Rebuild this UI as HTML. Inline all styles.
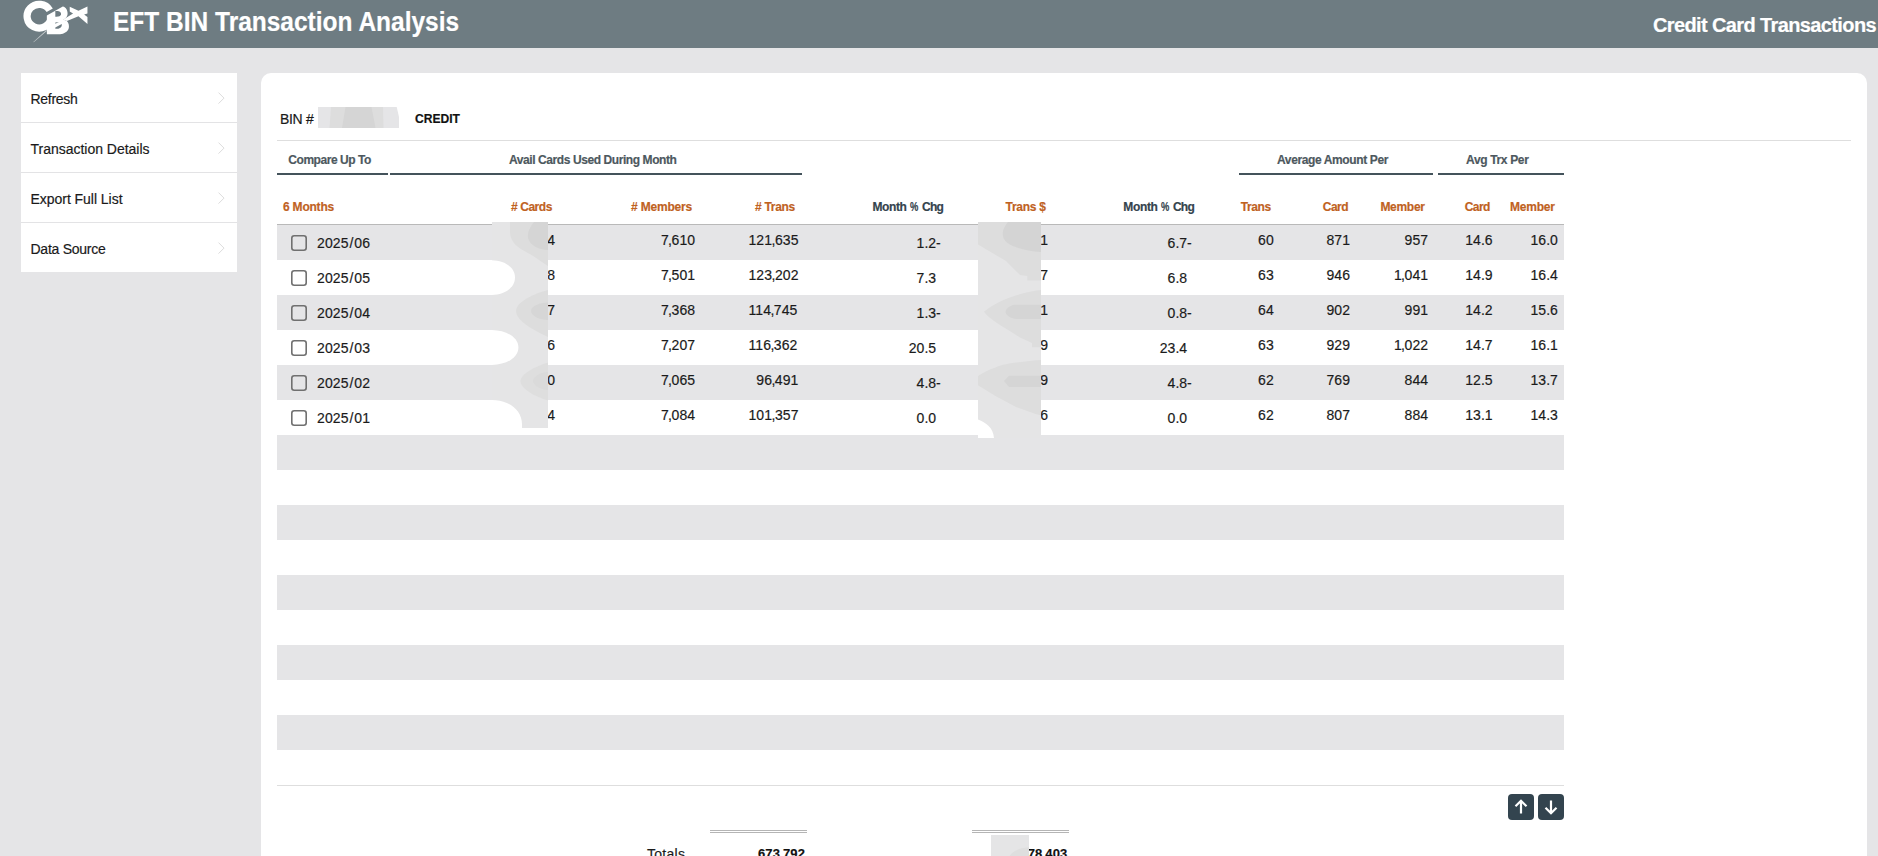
<!DOCTYPE html>
<html><head><meta charset="utf-8"><title>EFT BIN Transaction Analysis</title>
<style>
html,body{margin:0;padding:0;}
body{width:1878px;height:856px;overflow:hidden;background:#e5e5e7;position:relative;font-family:"Liberation Sans",sans-serif;}
.t{position:absolute;white-space:nowrap;line-height:20px;height:20px;}
.t i{font-style:normal;}
.t{-webkit-text-stroke:0.18px currentColor;}
.r{position:absolute;display:block;}
</style></head><body>
<div class="r" style="left:0px;top:0px;width:1878px;height:48px;background:#6e7c82;"></div>
<svg class="r" style="left:16px;top:0px" width="80" height="44" viewBox="0 0 1556 856">
<g fill="#fff">
<path d="M656 200 A236 230 0 1 0 684 355" fill="none" stroke="#fff" stroke-width="140"/>
<path d="M600 300 L910 125 C975 135 1010 210 1003 275 C998 325 965 360 920 380 L990 410 C1030 445 1040 520 1022 565 C990 640 900 668 830 668 L600 668 Z"/>
<path d="M1045 130 L1215 210 L1390 125 L1390 265 L1325 280 L1390 330 L1390 465 L1215 315 L990 410 L920 380 L1110 265 L1045 225 Z"/>
<path d="M585 588 L606 600 L345 824 L337 819 Z" fill-opacity="0.6"/>
</g>
<g fill="#6e7c82">
<path d="M765 215 L815 215 C860 222 882 252 875 283 C866 316 822 330 765 325 Z"/>
<path d="M765 462 L765 440 L835 428 Z"/>
<path d="M765 535 L890 468 C900 520 860 562 800 560 L765 560 Z"/>
</g>
</svg>

<span class="t" style="left:113.20px;top:11.84px;font-size:27px;font-weight:700;color:#fff;letter-spacing:0.000px;transform-origin:0 0;transform:scaleX(0.9070);">EFT BIN Transaction Analysis</span>
<span class="t" style="left:1653.00px;top:15.07px;font-size:20px;font-weight:700;color:#fff;letter-spacing:-0.618px;">Credit Card Transactions</span>
<div class="r" style="left:21px;top:73px;width:216px;height:199px;background:#fff;"></div>
<div class="r" style="left:21px;top:122px;width:216px;height:1px;background:#e3e3e5;"></div>
<span class="t" style="left:30.50px;top:89.15px;font-size:14px;color:#1a1a1a;letter-spacing:-0.289px;">Refresh</span>
<svg class="r" style="left:216px;top:91.9px" width="10" height="14" viewBox="0 0 10 14"><path d="M2.5 0.6 L8 6.1 L2.5 11.6" fill="none" stroke="#dcdcdc" stroke-width="1"/></svg>
<div class="r" style="left:21px;top:172px;width:216px;height:1px;background:#e3e3e5;"></div>
<span class="t" style="left:30.50px;top:139.15px;font-size:14px;color:#1a1a1a;letter-spacing:-0.016px;">Transaction Details</span>
<svg class="r" style="left:216px;top:141.9px" width="10" height="14" viewBox="0 0 10 14"><path d="M2.5 0.6 L8 6.1 L2.5 11.6" fill="none" stroke="#dcdcdc" stroke-width="1"/></svg>
<div class="r" style="left:21px;top:222px;width:216px;height:1px;background:#e3e3e5;"></div>
<span class="t" style="left:30.50px;top:189.15px;font-size:14px;color:#1a1a1a;letter-spacing:-0.037px;">Export Full List</span>
<svg class="r" style="left:216px;top:191.9px" width="10" height="14" viewBox="0 0 10 14"><path d="M2.5 0.6 L8 6.1 L2.5 11.6" fill="none" stroke="#dcdcdc" stroke-width="1"/></svg>
<span class="t" style="left:30.50px;top:239.15px;font-size:14px;color:#1a1a1a;letter-spacing:-0.256px;">Data Source</span>
<svg class="r" style="left:216px;top:241.9px" width="10" height="14" viewBox="0 0 10 14"><path d="M2.5 0.6 L8 6.1 L2.5 11.6" fill="none" stroke="#dcdcdc" stroke-width="1"/></svg>
<div class="r" style="left:261px;top:73px;width:1606px;height:800px;background:#fff;border-radius:10px 10px 0 0;"></div>
<span class="t" style="left:279.90px;top:109.15px;font-size:14px;color:#1a1a1a;letter-spacing:-0.263px;">BIN #</span>
<svg class="r" style="left:318px;top:107px" width="81" height="21" viewBox="318 107 81 21">
<path d="M318 107 L396.7 107 L399 117 L399 128 L318 128 Z" fill="#e5e5e7"/>
<path d="M331 107 L383 107 L383.5 128 L329.5 128 Z" fill="#dddddd"/>
<path d="M345.5 107 L371.5 107 L375.5 128 L342 128 Z" fill="#d5d5d5"/>
</svg>

<span class="t" style="left:414.60px;top:109.00px;font-size:13px;font-weight:700;color:#111;letter-spacing:0.000px;transform-origin:0 0;transform:scaleX(0.9300);">CREDIT</span>
<div class="r" style="left:277px;top:140px;width:1574px;height:1px;background:#dedede;"></div>
<span class="t" style="left:288.30px;top:149.84px;font-size:12px;font-weight:700;color:#4d585e;letter-spacing:-0.457px;">Compare Up To</span>
<div class="r" style="left:277px;top:173px;width:111px;height:2px;background:#44535b;"></div>
<span class="t" style="left:509.00px;top:149.84px;font-size:12px;font-weight:700;color:#4d585e;letter-spacing:-0.416px;">Avail Cards Used During Month</span>
<div class="r" style="left:390px;top:173px;width:412px;height:2px;background:#44535b;"></div>
<span class="t" style="left:1277.00px;top:149.84px;font-size:12px;font-weight:700;color:#4d585e;letter-spacing:-0.378px;">Average Amount Per</span>
<div class="r" style="left:1239px;top:173px;width:194px;height:2px;background:#44535b;"></div>
<span class="t" style="left:1466.00px;top:149.84px;font-size:12px;font-weight:700;color:#4d585e;letter-spacing:-0.341px;">Avg Trx Per</span>
<div class="r" style="left:1438px;top:173px;width:126px;height:2px;background:#44535b;"></div>
<span class="t" style="left:283.00px;top:196.84px;font-size:12px;font-weight:700;color:#c0621f;letter-spacing:-0.208px;">6 Months</span>
<span class="t" style="left:511.00px;top:196.84px;font-size:12px;font-weight:700;color:#c0621f;letter-spacing:-0.432px;"># Cards</span>
<span class="t" style="left:631.00px;top:196.84px;font-size:12px;font-weight:700;color:#c0621f;letter-spacing:-0.188px;"># Members</span>
<span class="t" style="left:755.00px;top:196.84px;font-size:12px;font-weight:700;color:#c0621f;letter-spacing:-0.289px;"># Trans</span>
<span class="t" style="left:872.40px;top:196.84px;font-size:12px;font-weight:700;color:#34434d;letter-spacing:-0.356px;">Month</span>
<span class="t" style="left:910.20px;top:196.84px;font-size:12px;font-weight:700;color:#34434d;letter-spacing:0.000px;transform-origin:0 0;transform:scaleX(0.7779);">%</span>
<span class="t" style="left:922.00px;top:196.84px;font-size:12px;font-weight:700;color:#34434d;letter-spacing:-0.709px;">Chg</span>
<span class="t" style="left:1005.50px;top:196.84px;font-size:12px;font-weight:700;color:#c0621f;letter-spacing:-0.246px;">Trans $</span>
<span class="t" style="left:1123.30px;top:196.84px;font-size:12px;font-weight:700;color:#34434d;letter-spacing:-0.356px;">Month</span>
<span class="t" style="left:1161.10px;top:196.84px;font-size:12px;font-weight:700;color:#34434d;letter-spacing:0.000px;transform-origin:0 0;transform:scaleX(0.7779);">%</span>
<span class="t" style="left:1172.90px;top:196.84px;font-size:12px;font-weight:700;color:#34434d;letter-spacing:-0.709px;">Chg</span>
<span class="t" style="left:1240.70px;top:196.84px;font-size:12px;font-weight:700;color:#c0621f;letter-spacing:-0.403px;">Trans</span>
<span class="t" style="left:1322.80px;top:196.84px;font-size:12px;font-weight:700;color:#c0621f;letter-spacing:-0.535px;">Card</span>
<span class="t" style="left:1380.40px;top:196.84px;font-size:12px;font-weight:700;color:#c0621f;letter-spacing:-0.286px;">Member</span>
<span class="t" style="left:1464.80px;top:196.84px;font-size:12px;font-weight:700;color:#c0621f;letter-spacing:-0.610px;">Card</span>
<span class="t" style="left:1510.00px;top:196.84px;font-size:12px;font-weight:700;color:#c0621f;letter-spacing:-0.236px;">Member</span>
<div class="r" style="left:277px;top:224px;width:1287px;height:1px;background:#b9b9b9;"></div>
<div class="r" style="left:277px;top:225px;width:1287px;height:35px;background:#e5e5e7;"></div>
<div class="r" style="left:277px;top:295px;width:1287px;height:35px;background:#e5e5e7;"></div>
<div class="r" style="left:277px;top:365px;width:1287px;height:35px;background:#e5e5e7;"></div>
<div class="r" style="left:277px;top:435px;width:1287px;height:35px;background:#e5e5e7;"></div>
<div class="r" style="left:277px;top:505px;width:1287px;height:35px;background:#e5e5e7;"></div>
<div class="r" style="left:277px;top:575px;width:1287px;height:35px;background:#e5e5e7;"></div>
<div class="r" style="left:277px;top:645px;width:1287px;height:35px;background:#e5e5e7;"></div>
<div class="r" style="left:277px;top:715px;width:1287px;height:35px;background:#e5e5e7;"></div>
<svg class="r" style="left:290px;top:234px" width="18" height="18" viewBox="0 0 18 18"><rect x="1.8" y="1.8" width="14.4" height="14.4" rx="2.4" fill="none" stroke="#707070" stroke-width="1.6"/></svg>
<span class="t" style="left:317.00px;top:233.15px;font-size:14px;color:#1b1b1b"><i style="letter-spacing:0.075px">2</i><i style="letter-spacing:0.075px">0</i><i style="letter-spacing:0.075px">2</i><i style="letter-spacing:0.075px">5</i><i style="margin-left:0.939px;letter-spacing:0.939px">/</i><i style="letter-spacing:0.075px">0</i><i style="letter-spacing:0.075px">6</i></span>
<span class="t" style="left:547.24px;top:230.15px;font-size:14px;color:#1b1b1b"><i style="letter-spacing:0.075px">4</i></span>
<span class="t" style="left:660.91px;top:230.15px;font-size:14px;color:#1b1b1b"><i style="letter-spacing:0.075px">7</i><i style="margin-left:-0.700px;letter-spacing:-0.446px">,</i><i style="letter-spacing:0.075px">6</i><i style="letter-spacing:0.075px">1</i><i style="letter-spacing:0.075px">0</i></span>
<span class="t" style="left:748.49px;top:230.15px;font-size:14px;color:#1b1b1b"><i style="letter-spacing:0.075px">1</i><i style="letter-spacing:0.075px">2</i><i style="letter-spacing:0.075px">1</i><i style="margin-left:-0.700px;letter-spacing:-0.446px">,</i><i style="letter-spacing:0.075px">6</i><i style="letter-spacing:0.075px">3</i><i style="letter-spacing:0.075px">5</i></span>
<span class="t" style="left:916.59px;top:233.15px;font-size:14px;color:#1b1b1b"><i style="letter-spacing:0.075px">1</i><i style="letter-spacing:-0.198px">.</i><i style="letter-spacing:0.075px">2</i><i style="letter-spacing:-0.798px">-</i></span>
<span class="t" style="left:1040.14px;top:230.15px;font-size:14px;color:#1b1b1b"><i style="letter-spacing:0.075px">1</i></span>
<span class="t" style="left:1167.59px;top:233.15px;font-size:14px;color:#1b1b1b"><i style="letter-spacing:0.075px">6</i><i style="letter-spacing:-0.198px">.</i><i style="letter-spacing:0.075px">7</i><i style="letter-spacing:-0.798px">-</i></span>
<span class="t" style="left:1258.08px;top:230.15px;font-size:14px;color:#1b1b1b"><i style="letter-spacing:0.075px">6</i><i style="letter-spacing:0.075px">0</i></span>
<span class="t" style="left:1326.42px;top:230.15px;font-size:14px;color:#1b1b1b"><i style="letter-spacing:0.075px">8</i><i style="letter-spacing:0.075px">7</i><i style="letter-spacing:0.075px">1</i></span>
<span class="t" style="left:1404.52px;top:230.15px;font-size:14px;color:#1b1b1b"><i style="letter-spacing:0.075px">9</i><i style="letter-spacing:0.075px">5</i><i style="letter-spacing:0.075px">7</i></span>
<span class="t" style="left:1465.23px;top:230.15px;font-size:14px;color:#1b1b1b"><i style="letter-spacing:0.075px">1</i><i style="letter-spacing:0.075px">4</i><i style="letter-spacing:-0.198px">.</i><i style="letter-spacing:0.075px">6</i></span>
<span class="t" style="left:1530.43px;top:230.15px;font-size:14px;color:#1b1b1b"><i style="letter-spacing:0.075px">1</i><i style="letter-spacing:0.075px">6</i><i style="letter-spacing:-0.198px">.</i><i style="letter-spacing:0.075px">0</i></span>
<svg class="r" style="left:290px;top:269px" width="18" height="18" viewBox="0 0 18 18"><rect x="1.8" y="1.8" width="14.4" height="14.4" rx="2.4" fill="none" stroke="#707070" stroke-width="1.6"/></svg>
<span class="t" style="left:317.00px;top:268.15px;font-size:14px;color:#1b1b1b"><i style="letter-spacing:0.075px">2</i><i style="letter-spacing:0.075px">0</i><i style="letter-spacing:0.075px">2</i><i style="letter-spacing:0.075px">5</i><i style="margin-left:0.939px;letter-spacing:0.939px">/</i><i style="letter-spacing:0.075px">0</i><i style="letter-spacing:0.075px">5</i></span>
<span class="t" style="left:547.24px;top:265.15px;font-size:14px;color:#1b1b1b"><i style="letter-spacing:0.075px">8</i></span>
<span class="t" style="left:660.91px;top:265.15px;font-size:14px;color:#1b1b1b"><i style="letter-spacing:0.075px">7</i><i style="margin-left:-0.700px;letter-spacing:-0.446px">,</i><i style="letter-spacing:0.075px">5</i><i style="letter-spacing:0.075px">0</i><i style="letter-spacing:0.075px">1</i></span>
<span class="t" style="left:748.49px;top:265.15px;font-size:14px;color:#1b1b1b"><i style="letter-spacing:0.075px">1</i><i style="letter-spacing:0.075px">2</i><i style="letter-spacing:0.075px">3</i><i style="margin-left:-0.700px;letter-spacing:-0.446px">,</i><i style="letter-spacing:0.075px">2</i><i style="letter-spacing:0.075px">0</i><i style="letter-spacing:0.075px">2</i></span>
<span class="t" style="left:916.59px;top:268.15px;font-size:14px;color:#1b1b1b"><i style="letter-spacing:0.075px">7</i><i style="letter-spacing:-0.198px">.</i><i style="letter-spacing:0.075px">3</i></span>
<span class="t" style="left:1040.14px;top:265.15px;font-size:14px;color:#1b1b1b"><i style="letter-spacing:0.075px">7</i></span>
<span class="t" style="left:1167.59px;top:268.15px;font-size:14px;color:#1b1b1b"><i style="letter-spacing:0.075px">6</i><i style="letter-spacing:-0.198px">.</i><i style="letter-spacing:0.075px">8</i></span>
<span class="t" style="left:1258.08px;top:265.15px;font-size:14px;color:#1b1b1b"><i style="letter-spacing:0.075px">6</i><i style="letter-spacing:0.075px">3</i></span>
<span class="t" style="left:1326.42px;top:265.15px;font-size:14px;color:#1b1b1b"><i style="letter-spacing:0.075px">9</i><i style="letter-spacing:0.075px">4</i><i style="letter-spacing:0.075px">6</i></span>
<span class="t" style="left:1393.91px;top:265.15px;font-size:14px;color:#1b1b1b"><i style="letter-spacing:0.075px">1</i><i style="margin-left:-0.700px;letter-spacing:-0.446px">,</i><i style="letter-spacing:0.075px">0</i><i style="letter-spacing:0.075px">4</i><i style="letter-spacing:0.075px">1</i></span>
<span class="t" style="left:1465.23px;top:265.15px;font-size:14px;color:#1b1b1b"><i style="letter-spacing:0.075px">1</i><i style="letter-spacing:0.075px">4</i><i style="letter-spacing:-0.198px">.</i><i style="letter-spacing:0.075px">9</i></span>
<span class="t" style="left:1530.43px;top:265.15px;font-size:14px;color:#1b1b1b"><i style="letter-spacing:0.075px">1</i><i style="letter-spacing:0.075px">6</i><i style="letter-spacing:-0.198px">.</i><i style="letter-spacing:0.075px">4</i></span>
<svg class="r" style="left:290px;top:304px" width="18" height="18" viewBox="0 0 18 18"><rect x="1.8" y="1.8" width="14.4" height="14.4" rx="2.4" fill="none" stroke="#707070" stroke-width="1.6"/></svg>
<span class="t" style="left:317.00px;top:303.15px;font-size:14px;color:#1b1b1b"><i style="letter-spacing:0.075px">2</i><i style="letter-spacing:0.075px">0</i><i style="letter-spacing:0.075px">2</i><i style="letter-spacing:0.075px">5</i><i style="margin-left:0.939px;letter-spacing:0.939px">/</i><i style="letter-spacing:0.075px">0</i><i style="letter-spacing:0.075px">4</i></span>
<span class="t" style="left:547.24px;top:300.15px;font-size:14px;color:#1b1b1b"><i style="letter-spacing:0.075px">7</i></span>
<span class="t" style="left:660.91px;top:300.15px;font-size:14px;color:#1b1b1b"><i style="letter-spacing:0.075px">7</i><i style="margin-left:-0.700px;letter-spacing:-0.446px">,</i><i style="letter-spacing:0.075px">3</i><i style="letter-spacing:0.075px">6</i><i style="letter-spacing:0.075px">8</i></span>
<span class="t" style="left:748.49px;top:300.15px;font-size:14px;color:#1b1b1b"><i style="letter-spacing:0.075px">1</i><i style="letter-spacing:0.075px">1</i><i style="letter-spacing:0.075px">4</i><i style="margin-left:-0.700px;letter-spacing:-0.446px">,</i><i style="letter-spacing:0.075px">7</i><i style="letter-spacing:0.075px">4</i><i style="letter-spacing:0.075px">5</i></span>
<span class="t" style="left:916.59px;top:303.15px;font-size:14px;color:#1b1b1b"><i style="letter-spacing:0.075px">1</i><i style="letter-spacing:-0.198px">.</i><i style="letter-spacing:0.075px">3</i><i style="letter-spacing:-0.798px">-</i></span>
<span class="t" style="left:1040.14px;top:300.15px;font-size:14px;color:#1b1b1b"><i style="letter-spacing:0.075px">1</i></span>
<span class="t" style="left:1167.59px;top:303.15px;font-size:14px;color:#1b1b1b"><i style="letter-spacing:0.075px">0</i><i style="letter-spacing:-0.198px">.</i><i style="letter-spacing:0.075px">8</i><i style="letter-spacing:-0.798px">-</i></span>
<span class="t" style="left:1258.08px;top:300.15px;font-size:14px;color:#1b1b1b"><i style="letter-spacing:0.075px">6</i><i style="letter-spacing:0.075px">4</i></span>
<span class="t" style="left:1326.42px;top:300.15px;font-size:14px;color:#1b1b1b"><i style="letter-spacing:0.075px">9</i><i style="letter-spacing:0.075px">0</i><i style="letter-spacing:0.075px">2</i></span>
<span class="t" style="left:1404.52px;top:300.15px;font-size:14px;color:#1b1b1b"><i style="letter-spacing:0.075px">9</i><i style="letter-spacing:0.075px">9</i><i style="letter-spacing:0.075px">1</i></span>
<span class="t" style="left:1465.23px;top:300.15px;font-size:14px;color:#1b1b1b"><i style="letter-spacing:0.075px">1</i><i style="letter-spacing:0.075px">4</i><i style="letter-spacing:-0.198px">.</i><i style="letter-spacing:0.075px">2</i></span>
<span class="t" style="left:1530.43px;top:300.15px;font-size:14px;color:#1b1b1b"><i style="letter-spacing:0.075px">1</i><i style="letter-spacing:0.075px">5</i><i style="letter-spacing:-0.198px">.</i><i style="letter-spacing:0.075px">6</i></span>
<svg class="r" style="left:290px;top:339px" width="18" height="18" viewBox="0 0 18 18"><rect x="1.8" y="1.8" width="14.4" height="14.4" rx="2.4" fill="none" stroke="#707070" stroke-width="1.6"/></svg>
<span class="t" style="left:317.00px;top:338.15px;font-size:14px;color:#1b1b1b"><i style="letter-spacing:0.075px">2</i><i style="letter-spacing:0.075px">0</i><i style="letter-spacing:0.075px">2</i><i style="letter-spacing:0.075px">5</i><i style="margin-left:0.939px;letter-spacing:0.939px">/</i><i style="letter-spacing:0.075px">0</i><i style="letter-spacing:0.075px">3</i></span>
<span class="t" style="left:547.24px;top:335.15px;font-size:14px;color:#1b1b1b"><i style="letter-spacing:0.075px">6</i></span>
<span class="t" style="left:660.91px;top:335.15px;font-size:14px;color:#1b1b1b"><i style="letter-spacing:0.075px">7</i><i style="margin-left:-0.700px;letter-spacing:-0.446px">,</i><i style="letter-spacing:0.075px">2</i><i style="letter-spacing:0.075px">0</i><i style="letter-spacing:0.075px">7</i></span>
<span class="t" style="left:748.49px;top:335.15px;font-size:14px;color:#1b1b1b"><i style="letter-spacing:0.075px">1</i><i style="letter-spacing:0.075px">1</i><i style="letter-spacing:0.075px">6</i><i style="margin-left:-0.700px;letter-spacing:-0.446px">,</i><i style="letter-spacing:0.075px">3</i><i style="letter-spacing:0.075px">6</i><i style="letter-spacing:0.075px">2</i></span>
<span class="t" style="left:908.73px;top:338.15px;font-size:14px;color:#1b1b1b"><i style="letter-spacing:0.075px">2</i><i style="letter-spacing:0.075px">0</i><i style="letter-spacing:-0.198px">.</i><i style="letter-spacing:0.075px">5</i></span>
<span class="t" style="left:1040.14px;top:335.15px;font-size:14px;color:#1b1b1b"><i style="letter-spacing:0.075px">9</i></span>
<span class="t" style="left:1159.73px;top:338.15px;font-size:14px;color:#1b1b1b"><i style="letter-spacing:0.075px">2</i><i style="letter-spacing:0.075px">3</i><i style="letter-spacing:-0.198px">.</i><i style="letter-spacing:0.075px">4</i></span>
<span class="t" style="left:1258.08px;top:335.15px;font-size:14px;color:#1b1b1b"><i style="letter-spacing:0.075px">6</i><i style="letter-spacing:0.075px">3</i></span>
<span class="t" style="left:1326.42px;top:335.15px;font-size:14px;color:#1b1b1b"><i style="letter-spacing:0.075px">9</i><i style="letter-spacing:0.075px">2</i><i style="letter-spacing:0.075px">9</i></span>
<span class="t" style="left:1393.91px;top:335.15px;font-size:14px;color:#1b1b1b"><i style="letter-spacing:0.075px">1</i><i style="margin-left:-0.700px;letter-spacing:-0.446px">,</i><i style="letter-spacing:0.075px">0</i><i style="letter-spacing:0.075px">2</i><i style="letter-spacing:0.075px">2</i></span>
<span class="t" style="left:1465.23px;top:335.15px;font-size:14px;color:#1b1b1b"><i style="letter-spacing:0.075px">1</i><i style="letter-spacing:0.075px">4</i><i style="letter-spacing:-0.198px">.</i><i style="letter-spacing:0.075px">7</i></span>
<span class="t" style="left:1530.43px;top:335.15px;font-size:14px;color:#1b1b1b"><i style="letter-spacing:0.075px">1</i><i style="letter-spacing:0.075px">6</i><i style="letter-spacing:-0.198px">.</i><i style="letter-spacing:0.075px">1</i></span>
<svg class="r" style="left:290px;top:374px" width="18" height="18" viewBox="0 0 18 18"><rect x="1.8" y="1.8" width="14.4" height="14.4" rx="2.4" fill="none" stroke="#707070" stroke-width="1.6"/></svg>
<span class="t" style="left:317.00px;top:373.15px;font-size:14px;color:#1b1b1b"><i style="letter-spacing:0.075px">2</i><i style="letter-spacing:0.075px">0</i><i style="letter-spacing:0.075px">2</i><i style="letter-spacing:0.075px">5</i><i style="margin-left:0.939px;letter-spacing:0.939px">/</i><i style="letter-spacing:0.075px">0</i><i style="letter-spacing:0.075px">2</i></span>
<span class="t" style="left:547.24px;top:370.15px;font-size:14px;color:#1b1b1b"><i style="letter-spacing:0.075px">0</i></span>
<span class="t" style="left:660.91px;top:370.15px;font-size:14px;color:#1b1b1b"><i style="letter-spacing:0.075px">7</i><i style="margin-left:-0.700px;letter-spacing:-0.446px">,</i><i style="letter-spacing:0.075px">0</i><i style="letter-spacing:0.075px">6</i><i style="letter-spacing:0.075px">5</i></span>
<span class="t" style="left:756.35px;top:370.15px;font-size:14px;color:#1b1b1b"><i style="letter-spacing:0.075px">9</i><i style="letter-spacing:0.075px">6</i><i style="margin-left:-0.700px;letter-spacing:-0.446px">,</i><i style="letter-spacing:0.075px">4</i><i style="letter-spacing:0.075px">9</i><i style="letter-spacing:0.075px">1</i></span>
<span class="t" style="left:916.59px;top:373.15px;font-size:14px;color:#1b1b1b"><i style="letter-spacing:0.075px">4</i><i style="letter-spacing:-0.198px">.</i><i style="letter-spacing:0.075px">8</i><i style="letter-spacing:-0.798px">-</i></span>
<span class="t" style="left:1040.14px;top:370.15px;font-size:14px;color:#1b1b1b"><i style="letter-spacing:0.075px">9</i></span>
<span class="t" style="left:1167.59px;top:373.15px;font-size:14px;color:#1b1b1b"><i style="letter-spacing:0.075px">4</i><i style="letter-spacing:-0.198px">.</i><i style="letter-spacing:0.075px">8</i><i style="letter-spacing:-0.798px">-</i></span>
<span class="t" style="left:1258.08px;top:370.15px;font-size:14px;color:#1b1b1b"><i style="letter-spacing:0.075px">6</i><i style="letter-spacing:0.075px">2</i></span>
<span class="t" style="left:1326.42px;top:370.15px;font-size:14px;color:#1b1b1b"><i style="letter-spacing:0.075px">7</i><i style="letter-spacing:0.075px">6</i><i style="letter-spacing:0.075px">9</i></span>
<span class="t" style="left:1404.52px;top:370.15px;font-size:14px;color:#1b1b1b"><i style="letter-spacing:0.075px">8</i><i style="letter-spacing:0.075px">4</i><i style="letter-spacing:0.075px">4</i></span>
<span class="t" style="left:1465.23px;top:370.15px;font-size:14px;color:#1b1b1b"><i style="letter-spacing:0.075px">1</i><i style="letter-spacing:0.075px">2</i><i style="letter-spacing:-0.198px">.</i><i style="letter-spacing:0.075px">5</i></span>
<span class="t" style="left:1530.43px;top:370.15px;font-size:14px;color:#1b1b1b"><i style="letter-spacing:0.075px">1</i><i style="letter-spacing:0.075px">3</i><i style="letter-spacing:-0.198px">.</i><i style="letter-spacing:0.075px">7</i></span>
<svg class="r" style="left:290px;top:409px" width="18" height="18" viewBox="0 0 18 18"><rect x="1.8" y="1.8" width="14.4" height="14.4" rx="2.4" fill="none" stroke="#707070" stroke-width="1.6"/></svg>
<span class="t" style="left:317.00px;top:408.15px;font-size:14px;color:#1b1b1b"><i style="letter-spacing:0.075px">2</i><i style="letter-spacing:0.075px">0</i><i style="letter-spacing:0.075px">2</i><i style="letter-spacing:0.075px">5</i><i style="margin-left:0.939px;letter-spacing:0.939px">/</i><i style="letter-spacing:0.075px">0</i><i style="letter-spacing:0.075px">1</i></span>
<span class="t" style="left:547.24px;top:405.15px;font-size:14px;color:#1b1b1b"><i style="letter-spacing:0.075px">4</i></span>
<span class="t" style="left:660.91px;top:405.15px;font-size:14px;color:#1b1b1b"><i style="letter-spacing:0.075px">7</i><i style="margin-left:-0.700px;letter-spacing:-0.446px">,</i><i style="letter-spacing:0.075px">0</i><i style="letter-spacing:0.075px">8</i><i style="letter-spacing:0.075px">4</i></span>
<span class="t" style="left:748.49px;top:405.15px;font-size:14px;color:#1b1b1b"><i style="letter-spacing:0.075px">1</i><i style="letter-spacing:0.075px">0</i><i style="letter-spacing:0.075px">1</i><i style="margin-left:-0.700px;letter-spacing:-0.446px">,</i><i style="letter-spacing:0.075px">3</i><i style="letter-spacing:0.075px">5</i><i style="letter-spacing:0.075px">7</i></span>
<span class="t" style="left:916.59px;top:408.15px;font-size:14px;color:#1b1b1b"><i style="letter-spacing:0.075px">0</i><i style="letter-spacing:-0.198px">.</i><i style="letter-spacing:0.075px">0</i></span>
<span class="t" style="left:1040.14px;top:405.15px;font-size:14px;color:#1b1b1b"><i style="letter-spacing:0.075px">6</i></span>
<span class="t" style="left:1167.59px;top:408.15px;font-size:14px;color:#1b1b1b"><i style="letter-spacing:0.075px">0</i><i style="letter-spacing:-0.198px">.</i><i style="letter-spacing:0.075px">0</i></span>
<span class="t" style="left:1258.08px;top:405.15px;font-size:14px;color:#1b1b1b"><i style="letter-spacing:0.075px">6</i><i style="letter-spacing:0.075px">2</i></span>
<span class="t" style="left:1326.42px;top:405.15px;font-size:14px;color:#1b1b1b"><i style="letter-spacing:0.075px">8</i><i style="letter-spacing:0.075px">0</i><i style="letter-spacing:0.075px">7</i></span>
<span class="t" style="left:1404.52px;top:405.15px;font-size:14px;color:#1b1b1b"><i style="letter-spacing:0.075px">8</i><i style="letter-spacing:0.075px">8</i><i style="letter-spacing:0.075px">4</i></span>
<span class="t" style="left:1465.23px;top:405.15px;font-size:14px;color:#1b1b1b"><i style="letter-spacing:0.075px">1</i><i style="letter-spacing:0.075px">3</i><i style="letter-spacing:-0.198px">.</i><i style="letter-spacing:0.075px">1</i></span>
<span class="t" style="left:1530.43px;top:405.15px;font-size:14px;color:#1b1b1b"><i style="letter-spacing:0.075px">1</i><i style="letter-spacing:0.075px">4</i><i style="letter-spacing:-0.198px">.</i><i style="letter-spacing:0.075px">3</i></span>
<svg class="r" style="left:492px;top:222px" width="56" height="206" viewBox="492 222 56 206">
<rect x="492" y="222" width="56" height="206" fill="#e5e5e6"/>
<path d="M492 260.3 C504 260.5 515 267 515 277.5 C515 288 504 294.8 492 295 Z" fill="#fff"/>
<path d="M492 330 C506 330.3 518.4 337 518.4 347.5 C518.4 358 506 364.7 492 365 Z" fill="#fff"/>
<path d="M492 400 L496 400.2 C510 401.5 521.5 410 522 424 L522 428 L492 428 Z" fill="#fff"/>
<path d="M510 222 L548 222 L548 266 C541 262 536 257 528 253 C518 248 510 242 510 232 Z" fill="#dddddd"/>
<path d="M534 222 L548 222 L548 250 C540 250 530 246 528 238 C527 232 531 226 534 222 Z" fill="#d5d5d5"/>
<path d="M548 290 C535 293 516 302 516 311 C516 321 535 331 548 337 Z" fill="#dddddd"/>
<path d="M548 302.5 C540 302.5 531 306 531 311 C531 316 540 320 548 320 Z" fill="#d6d6d6"/>
<path d="M548 362.5 C536 366 520.5 374 520.5 381 C520.5 389 536 397 548 400.5 Z" fill="#dedede"/>
<path d="M548 372 C542 372 533 376 533 381 C533 386 542 390 548 390 Z" fill="#dadada"/>
</svg>

<svg class="r" style="left:978px;top:222px" width="63" height="216" viewBox="978 222 63 216">
<rect x="978" y="222" width="63" height="216" fill="#e5e5e6"/>
<path d="M978 222 L1041 222 L1041 280.6 L1027.3 280.6 L1027.3 276 L1020 275 L1006 261 L978 244.5 Z" fill="#dddddd"/>
<path d="M1008 222 L1041 222 L1041 252 C1025 251 1004 246 1003 236 C1002 230 1005 226 1008 222 Z" fill="#d4d4d4"/>
<path d="M1041 290 C1020 292 995 302 984 311.8 C990 320 1006 328.4 1020 337.5 L1032 343 L1032 347.3 L1041 347.3 Z" fill="#dddddd"/>
<path d="M1041 304.8 L1014 304.8 C1009 306 1005.6 309 1005.6 312 C1005.6 315 1010 318 1016 319 L1041 319 Z" fill="#d5d5d5"/>
<path d="M978 376 C984 372 990 369 995 367.7 C1003 364 1016 362 1041 360 L1041 415.4 L1035.7 414 L1016 407 L995 395.7 L978 385.2 Z" fill="#dddddd"/>
<path d="M1041 375.8 L1009 375.8 L1004 381 L1009 387 L1041 387 Z" fill="#d5d5d5"/>
<path d="M978 419.5 C986 423 993 427 994 438 L978 438 Z" fill="#fff"/>
</svg>

<div class="r" style="left:277px;top:785px;width:1287px;height:1px;background:#dedede;"></div>
<svg class="r" style="left:1508px;top:794px" width="26" height="26" viewBox="0 0 26 26"><rect width="26" height="26" rx="4" fill="#33444f"/><path d="M13 19.5 V7 M7.5 12.3 L13 6.8 L18.5 12.3" fill="none" stroke="#fff" stroke-width="2.2"/></svg>
<svg class="r" style="left:1538px;top:794px" width="26" height="26" viewBox="0 0 26 26"><rect width="26" height="26" rx="4" fill="#33444f"/><path d="M13 6.5 V19 M7.5 13.7 L13 19.2 L18.5 13.7" fill="none" stroke="#fff" stroke-width="2.2"/></svg>
<div class="r" style="left:710px;top:830px;width:97px;height:1px;background:#b5b5b5;"></div>
<div class="r" style="left:710px;top:832px;width:97px;height:1px;background:#b5b5b5;"></div>
<div class="r" style="left:972px;top:830px;width:97px;height:1px;background:#b5b5b5;"></div>
<div class="r" style="left:972px;top:832px;width:97px;height:1px;background:#b5b5b5;"></div>
<span class="t" style="left:647.00px;top:844.15px;font-size:14px;color:#1b1b1b;letter-spacing:0.288px;">Totals</span>
<span class="t" style="left:757.96px;top:843.70px;font-size:13px;font-weight:700;color:#111"><i style="letter-spacing:0.128px">6</i><i style="letter-spacing:0.128px">7</i><i style="letter-spacing:0.128px">3</i><i style="margin-left:-0.650px;letter-spacing:-0.067px">,</i><i style="letter-spacing:0.128px">7</i><i style="letter-spacing:0.128px">9</i><i style="letter-spacing:0.128px">2</i></span>
<span class="t" style="left:1027.71px;top:843.70px;font-size:13px;font-weight:700;color:#111"><i style="letter-spacing:0.128px">7</i><i style="letter-spacing:0.128px">8</i><i style="margin-left:-0.650px;letter-spacing:-0.067px">,</i><i style="letter-spacing:0.128px">4</i><i style="letter-spacing:0.128px">0</i><i style="letter-spacing:0.128px">3</i></span>
<svg class="r" style="left:991px;top:835px" width="38" height="21" viewBox="991 835 38 21">
<rect x="991" y="835" width="38" height="21" fill="#e5e5e6"/>
<path d="M1029 847.3 C1018 848 1012 852 1009.5 856 L1029 856 Z" fill="#dedede"/>
</svg>

</body></html>
